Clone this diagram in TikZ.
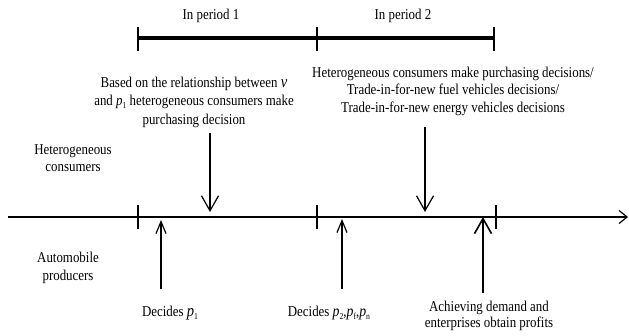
\documentclass[tikz,border=0pt]{standalone}
\usepackage{fontspec}
\setmainfont[FakeStretch=0.86]{Liberation Serif}
\usetikzlibrary{arrows.meta,calc}
\newcommand\psub[2]{{\textit{#1}\raisebox{-0.4ex}{\fontsize{9}{9}\selectfont #2}}}
\begin{document}
\begin{tikzpicture}[x=1pt,y=-1pt,
  txt/.style={font=\fontsize{15}{17.5}\selectfont, align=center, inner sep=0pt},
  tick/.style={line width=1.2pt},
  bar/.style={line width=3.5pt},
  arr/.style={line width=1.2pt, -{Straight Barb[length=15pt,width=17pt,line width=1.2pt]}},
  arrs/.style={line width=1.2pt, -{Straight Barb[length=12pt,width=10pt,line width=1.2pt]}},
  arrb/.style={line width=2pt, -{Straight Barb[length=15pt,width=17pt,line width=1.6pt]}}]
\useasboundingbox (0,0) rectangle (629,336);
% main axis
\coordinate (a0) at (8,217);
\coordinate (a1) at (628,217);
\draw[line width=1.2pt, -{Straight Barb[length=8pt,width=13pt,line width=1.2pt]}] (a0) -- (a1);
\foreach \x/\n in {138/t1,317/t2,496/t3}{
  \coordinate (\n u) at (\x,205); \coordinate (\n d) at (\x,229);
  \draw[tick] (\n u) -- (\n d);}
% period bar
\coordinate (b1) at (138,38); \coordinate (b2) at (317,38); \coordinate (b3) at (494,38);
\draw[bar] (b1) -- (b3);
\foreach \n in {b1,b2,b3}{\draw[tick] ($(\n)+(0,-11)$) -- ($(\n)+(0,13)$);}
\node[txt] (p1) at (211,16) {In period 1};
\node[txt] (p2) at (403,16) {In period 2};
% texts
\node[txt, font=\fontsize{15}{18.5}\selectfont] (c1) at (194,102) {Based on the relationship between \textit{\fontsize{17}{17}\selectfont v}\\and \psub{p}{1} heterogeneous consumers make\\purchasing decision};
\node[txt] (c2) at (453,91) {Heterogeneous consumers make purchasing decisions/\\Trade-in-for-new fuel vehicles decisions/\\Trade-in-for-new energy vehicles decisions};
\node[txt, font=\fontsize{15}{17}\selectfont] (hc) at (73,158) {Heterogeneous\\consumers};
\node[txt, font=\fontsize{15}{18}\selectfont] (ap) at (68,268) {Automobile\\producers};
\node[txt] (d1) at (170,313) {Decides \psub{\fontsize{17}{17}\selectfont p}{1}};
\node[txt] (d2) at (329,313) {Decides \psub{\fontsize{16}{16}\selectfont p}{2},\psub{\fontsize{16}{16}\selectfont p}{f},\psub{\fontsize{16}{16}\selectfont p}{n}};
\node[txt, font=\fontsize{15}{16}\selectfont] (ad) at (489,316) {Achieving demand and\\enterprises obtain profits};
% arrows
\coordinate (s1) at (210,133); \coordinate (e1) at (210,212);
\draw[arr] (s1) -- (e1);
\coordinate (s2) at (425,127); \coordinate (e2) at (425,212);
\draw[arr] (s2) -- (e2);
\coordinate (s3) at (161,289); \coordinate (e3) at (161,220);
\draw[arrs] (s3) -- (e3);
\coordinate (s4) at (342,289); \coordinate (e4) at (342,219);
\draw[arrs] (s4) -- (e4);
\coordinate (s5) at (483,293); \coordinate (e5) at (483,217);
\draw[arrb] (s5) -- (e5);
\end{tikzpicture}
\end{document}
